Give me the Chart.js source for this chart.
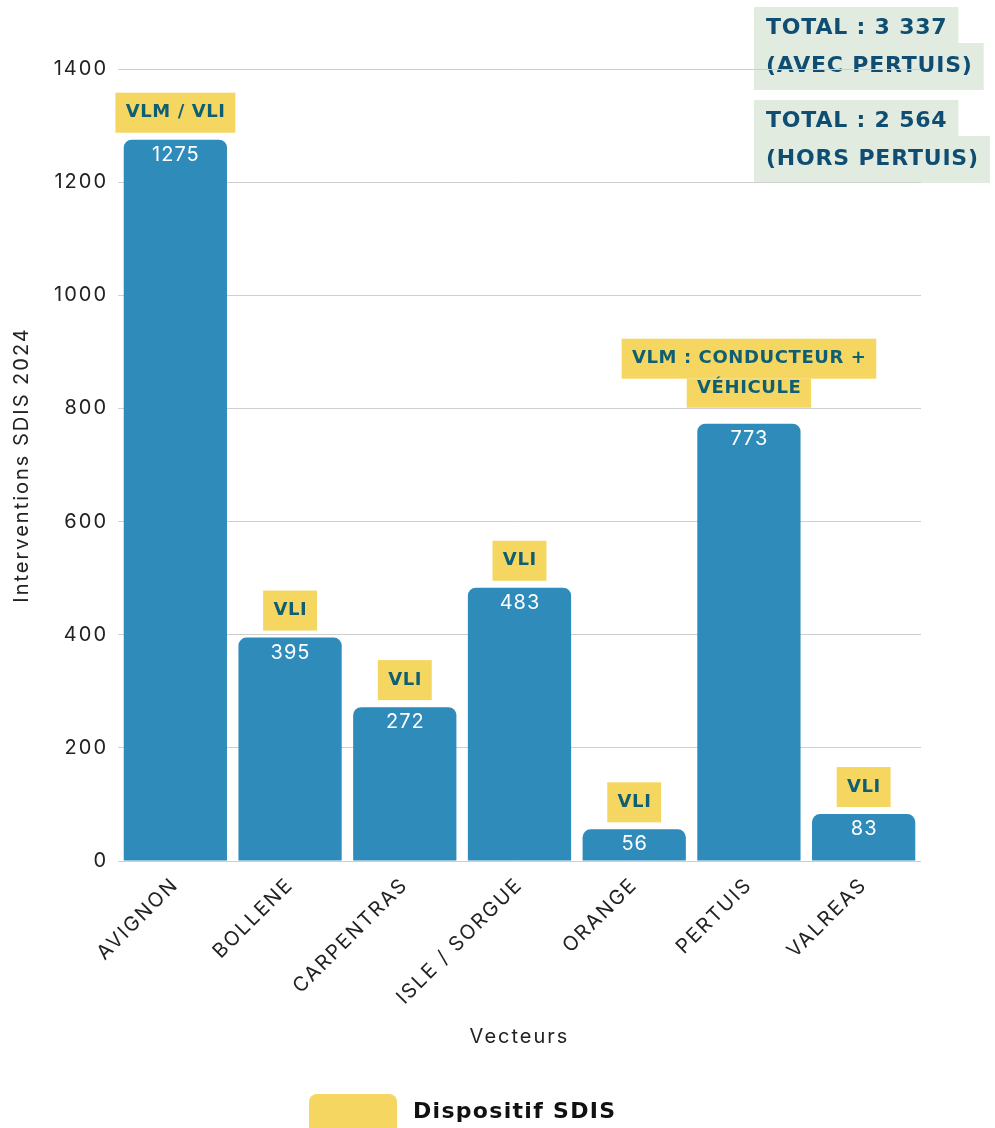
<!DOCTYPE html>
<html><head><meta charset="utf-8">
<script src="https://cdn.jsdelivr.net/npm/chart.js@4.4.1/dist/chart.umd.min.js"></script>
<style>html,body{margin:0;padding:0;background:#fff}#wrap{width:995px;height:1128px;position:relative}</style>
</head><body><div id="wrap"><canvas id="c"></canvas></div>
<script>
const categories = ['AVIGNON','BOLLENE','CARPENTRAS','ISLE / SORGUE','ORANGE','PERTUIS','VALREAS'];
const interventions = [1275, 395, 272, 483, 56, 773, 83];
const dispositifs = [['VLM / VLI'],['VLI'],['VLI'],['VLI'],['VLI'],['VLM : CONDUCTEUR +','VÉHICULE'],['VLI']];
const yTicks = [0, 200, 400, 600, 800, 1000, 1200, 1400];
const totalsAvec = ['TOTAL : 3 337', '(AVEC PERTUIS)'];
const totalsHors = ['TOTAL : 2 564', '(HORS PERTUIS)'];
const legendLabel = 'Dispositif SDIS';
const yTitle = 'Interventions SDIS 2024';
const xTitle = 'Vecteurs';

const BAR = '#2E8BBA', YEL = '#F5D660', TEAL = '#0E5F74', TOT_BG = '#E1EBDF', TOT_TX = '#0F4E72';
const REG = 'Inter, "Noto Sans", sans-serif';
const BOLD = '"DejaVu Sans", sans-serif';

const overlay = {
  id: 'overlay',
  beforeDraw(chart) {
    const ctx = chart.ctx;
    ctx.save();
    ctx.letterSpacing = '0.8px';
    ctx.font = 'bold 22px ' + BOLD;
    ctx.textBaseline = 'middle';
    ctx.textAlign = 'left';
    [[totalsAvec, 7], [totalsHors, 100]].forEach(([lines, top]) => {
      const x0 = 754, padL = 12, padR = 11;
      const hs = [36, 47];
      let y = top;
      lines.forEach((t, k) => {
        const w = ctx.measureText(t).width + padL + padR;
        ctx.fillStyle = TOT_BG;
        ctx.fillRect(x0, y, w, hs[k]);
        y += hs[k];
      });
      y = top;
      lines.forEach((t, k) => {
        ctx.fillStyle = TOT_TX;
        ctx.fillText(t, x0 + padL, k === 0 ? y + 21 : y + 23);
        y += hs[k];
      });
    });
    ctx.restore();
    // wider tracking for the regular chart texts (ticks, titles)
    ctx.letterSpacing = '2px';
  },
  afterDatasetsDraw(chart) {
    const ctx = chart.ctx;
    const meta = chart.getDatasetMeta(0);
    ctx.save();
    meta.data.forEach((bar, i) => {
      ctx.letterSpacing = '1px';
      ctx.font = '20px ' + REG;
      ctx.fillStyle = '#ffffff';
      ctx.textAlign = 'center';
      ctx.textBaseline = 'middle';
      ctx.fillText(String(interventions[i]), bar.x + 0.5, bar.y + 15);

      const lines = dispositifs[i];
      ctx.letterSpacing = '0.6px';
      ctx.font = 'bold 18px ' + BOLD;
      const hs = [40, 29];
      const gap = lines.length > 1 ? 16 : 7;
      let tot = 0; lines.forEach((_, k) => tot += hs[k]);
      let top = bar.y - gap - tot;
      let y = top;
      lines.forEach((t, k) => {
        const w = ctx.measureText(t).width + 20;
        ctx.fillStyle = YEL;
        ctx.fillRect(bar.x - w / 2, y, w, hs[k]);
        y += hs[k];
      });
      y = top;
      lines.forEach((t, k) => {
        ctx.fillStyle = TEAL;
        ctx.fillText(t, bar.x + 0.3, k === 0 ? y + 20 : y + 10);
        y += hs[k];
      });
    });
    // legend
    ctx.fillStyle = YEL;
    ctx.beginPath();
    ctx.roundRect(309, 1094, 88, 50, 8);
    ctx.fill();
    ctx.fillStyle = '#111';
    ctx.letterSpacing = '1.3px';
    ctx.font = 'bold 22px ' + BOLD;
    ctx.textAlign = 'left';
    ctx.textBaseline = 'middle';
    ctx.fillText(legendLabel, 413, 1112);
    ctx.restore();
  }
};

new Chart(document.getElementById('c'), {
  type: 'bar',
  data: {
    labels: categories,
    datasets: [{
      label: 'Interventions SDIS 2024',
      data: interventions,
      backgroundColor: BAR,
      borderRadius: 8,
      barPercentage: 0.9,
      categoryPercentage: 1.0
    }]
  },
  options: {
    responsive: true,
    maintainAspectRatio: false,
    animation: false,
    layout: { padding: { top: 69, right: 74, bottom: 75, left: 0 } },
    plugins: { legend: { display: false }, tooltip: { enabled: false } },
    scales: {
      x: {
        grid: { display: false },
        border: { display: false },
        ticks: { color: '#222', font: { family: REG, size: 20 }, maxRotation: 45, minRotation: 45, padding: 4 },
        title: { display: true, text: xTitle, color: '#222', font: { family: REG, size: 20 }, padding: { top: 4, bottom: 4 } },
        afterFit(s) { s.height = 192; }
      },
      y: {
        min: 0, max: 1400,
        afterBuildTicks(s) { s.ticks = yTicks.map(v => ({ value: v })); },
        grid: { color: '#CFCFCF', lineWidth: 1, drawTicks: false },
        border: { display: false },
        ticks: { color: '#222', font: { family: REG, size: 20 }, padding: 10, callback: v => String(v) },
        title: { display: true, text: yTitle, color: '#222', font: { family: REG, size: 20 }, padding: { top: 10, bottom: 4 } },
        afterFit(s) { s.width = 118; }
      }
    }
  },
  plugins: [overlay]
});
</script>
</body></html>
